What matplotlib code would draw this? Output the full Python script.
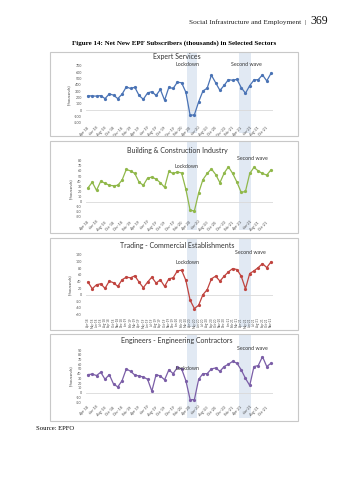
import matplotlib
matplotlib.use("Agg")
import matplotlib.pyplot as plt
import matplotlib.transforms as mtransforms
from matplotlib.patches import Rectangle

# ---------------- data ----------------
months = ["Apr-18","May-18","Jun-18","Jul-18","Aug-18","Sep-18","Oct-18","Nov-18","Dec-18","Jan-19","Feb-19","Mar-19",
          "Apr-19","May-19","Jun-19","Jul-19","Aug-19","Sep-19","Oct-19","Nov-19","Dec-19","Jan-20","Feb-20","Mar-20",
          "Apr-20","May-20","Jun-20","Jul-20","Aug-20","Sep-20","Oct-20","Nov-20","Dec-20","Jan-21","Feb-21","Mar-21",
          "Apr-21","May-21","Jun-21","Jul-21","Aug-21","Sep-21","Oct-21","Nov-21"]

expert = [225,222,220,228,180,255,235,180,250,365,340,360,230,170,270,290,230,325,155,360,340,440,430,280,
          -85,-75,130,300,345,550,430,310,390,480,470,485,355,265,385,475,480,555,460,580]
building = [27,38,22,40,36,32,31,32,42,63,60,55,38,32,46,48,44,37,28,59,55,58,56,24,
            -17,-18,17,43,55,64,53,37,56,68,55,38,18,20,55,67,60,55,52,62]
trading = [38,18,30,33,19,41,36,25,45,53,51,57,38,21,38,53,35,45,25,48,51,72,74,43,
           -17,-42,-32,0,15,48,56,41,56,69,79,76,56,18,64,72,82,94,82,99]
engineers = [38,39,36,43,28,38,18,12,25,50,45,37,35,33,28,3,38,35,27,48,40,53,50,25,
             -15,-15,28,40,40,50,52,45,55,60,66,62,48,30,15,55,57,76,55,62]

titles = ["Expert Services", "Building & Construction Industry",
          "Trading - Commercial Establishments", "Engineers - Engineering Contractors"]
series = [expert, building, trading, engineers]
colors = ["#4a73b5", "#90b84a", "#c0443f", "#7b5ea7"]
yticks = [list(range(-200, 701, 100)), list(range(-30, 81, 10)),
          list(range(-60, 121, 20)), list(range(-20, 91, 10))]

lockdown_span = (23.3, 25.7)
wave_span = (35.4, 38.2)

# ---------------- layout (pixel geometry) ----------------
W, H = 349, 480
fig = plt.figure(figsize=(W/100, H/100), dpi=100)
fig.patch.set_facecolor("white")

def fx(x): return x / W
def fy(y): return 1 - y / H

SERIF = ["Liberation Serif", "DejaVu Serif"]
SANS = ["Lato", "DejaVu Sans"]

fig.text(fx(310), fy(22), "Social Infrastructure and Employment  |  ", ha="right", va="center",
         fontsize=5.2, family=SERIF, color="#222222")
fig.text(fx(310), fy(21), "369", ha="left", va="center", fontsize=8.5, family=SERIF, color="#111111")
fig.text(fx(174), fy(43), "Figure 14: Net New EPF Subscribers (thousands) in Selected Sectors",
         ha="center", va="center", fontsize=5.0, family=SERIF, weight="bold")
fig.text(fx(36), fy(428), "Source: EPFO", ha="left", va="center", fontsize=4.8, family=SERIF)

boxes = [(52, 136), (141, 233), (238, 330), (334, 421)]
plots = [(65.7, 122.7), (160.7, 217.0), (255.0, 314.5), (350.0, 402.0)]
title_y = [57, 150, 246, 340]
lock_txt = [(187, 65), (186, 166), (188, 262), (188, 369)]
wave_txt = [(246, 65), (252, 159), (250, 253), (252, 348)]

x0px, x1px = 88, 271
step = (x1px - x0px) / (len(months) - 1)
xs = list(range(len(months)))

for k in range(4):
    btop, bbot = boxes[k]
    fig.add_artist(Rectangle((fx(50), fy(bbot)), fx(298) - fx(50), fy(btop) - fy(bbot),
                             transform=fig.transFigure, fill=False, edgecolor="#c8c8c8", lw=0.8))
    ytop, ybot = plots[k]
    left = x0px - 0.5 * step
    right = x1px + 0.5 * step
    ax = fig.add_axes([fx(left), fy(ybot), fx(right) - fx(left), fy(ytop) - fy(ybot)])
    ax.set_xlim(-0.5, len(months) - 0.5)
    ax.set_ylim(yticks[k][0], yticks[k][-1])
    ax.patch.set_alpha(0)
    for s in ax.spines.values():
        s.set_visible(False)
    ax.axhline(0, color="#d9d9d9", lw=0.6, zorder=1)

    tr = mtransforms.blended_transform_factory(ax.transData, fig.transFigure)
    for (a, b) in (lockdown_span, wave_span):
        ax.add_patch(Rectangle((a, fy(bbot - 3)), b - a, fy(btop + 1) - fy(bbot - 3), transform=tr,
                               facecolor="#e1e9f3", edgecolor="none", zorder=0, clip_on=False))

    ax.plot(xs, series[k], color=colors[k], lw=0.9, marker="o", ms=1.3, zorder=3)

    ax.set_yticks(yticks[k])
    ax.set_yticklabels([str(v) for v in yticks[k]], fontsize=2.6, family=SANS, color="#505050")
    ax.tick_params(axis="y", length=0, pad=3)
    if k == 2:
        ax.set_xticks(xs)
        ax.set_xticklabels(months, rotation=90, fontsize=2.2, family=SANS, color="#505050")
        ax.tick_params(axis="x", length=0, pad=2)
    else:
        ax.set_xticks(xs[::2])
        ax.set_xticklabels(months[::2], rotation=45, ha="right", rotation_mode="anchor",
                           fontsize=2.8, family=SANS, color="#505050")
        ax.tick_params(axis="x", length=0, pad=2)
    ax.set_ylabel("(thousands)", fontsize=3.0, family=SANS, color="#505050", labelpad=2)

    fig.text(fx(177), fy(title_y[k]), titles[k], ha="center", va="center",
             fontsize=5.0, family=SANS, color="#333333")
    fig.text(fx(lock_txt[k][0]), fy(lock_txt[k][1]), "Lockdown", ha="center", va="center",
             fontsize=3.8, family=SANS, color="#333333")
    fig.text(fx(wave_txt[k][0]), fy(wave_txt[k][1]), "Second wave", ha="center", va="center",
             fontsize=3.8, family=SANS, color="#333333")

fig.savefig("out.png", dpi=100, facecolor="white")
